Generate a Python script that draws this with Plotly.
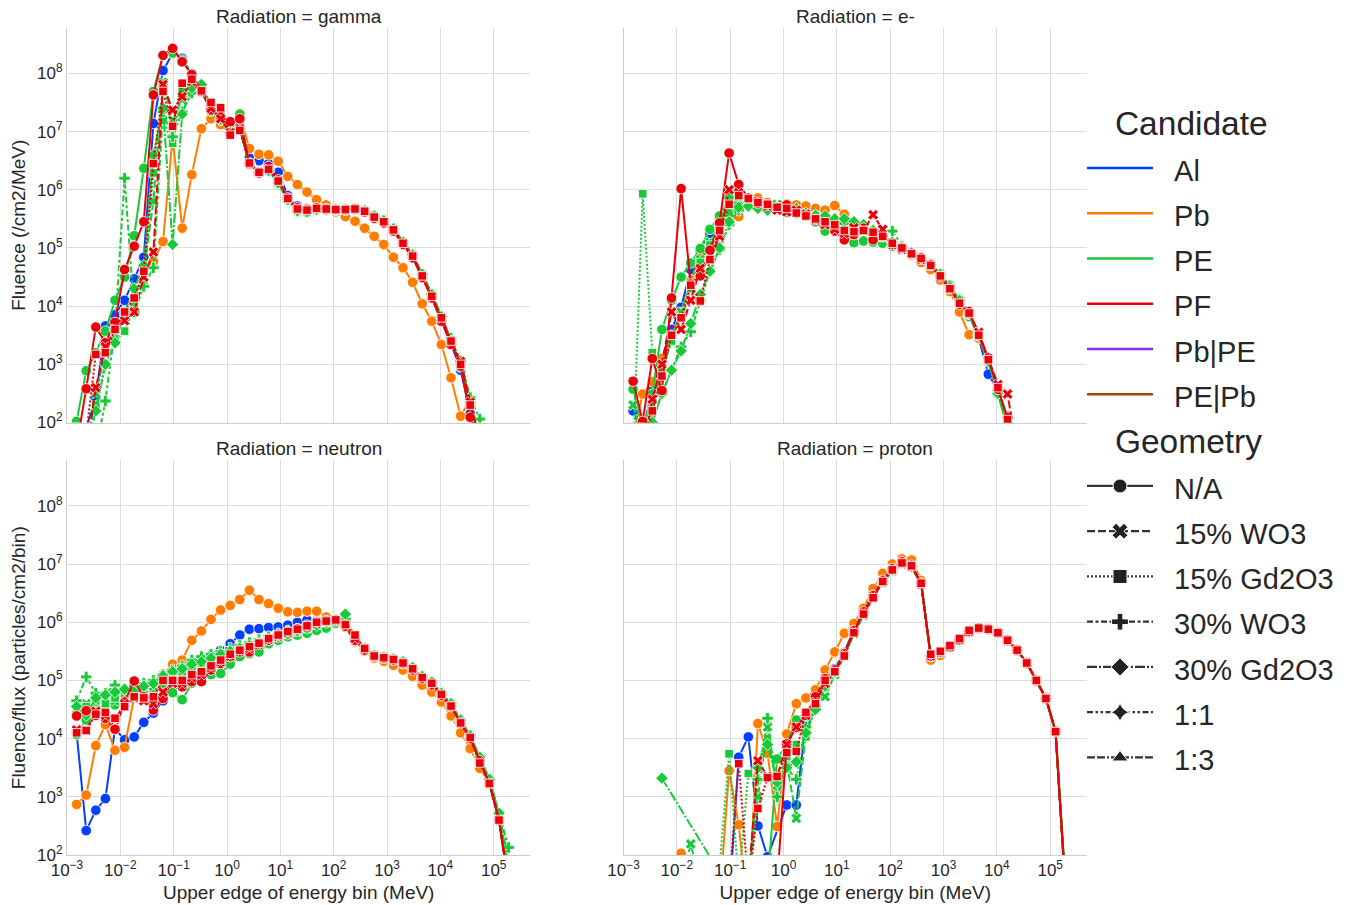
import plotly.graph_objects as go
from plotly.subplots import make_subplots

_ = None

# Upper edge of energy bin (MeV)
energy_MeV = [0.001514, 0.002291, 0.003467, 0.005248, 0.007943, 0.01202, 0.0182, 0.02754, 0.04169, 0.0631,
              0.0955, 0.1445, 0.2188, 0.3311, 0.5012, 0.7586, 1.148, 1.738, 2.63, 3.981,
              6.026, 9.12, 13.8, 20.89, 31.62, 47.86, 72.44, 109.6, 166.0, 251.2,
              380.2, 575.4, 871.0, 1318, 1995, 3020, 4571, 6918, 10470, 15850,
              23990, 36310, 54950, 83180, 125900, 190500]

radiations = ["gamma", "e-", "neutron", "proton"]
candidates = ["Al", "Pb", "PE", "PF", "Pb|PE", "PE|Pb"]
geometries = ["N/A", "15% WO3", "15% Gd2O3", "30% WO3", "30% Gd2O3", "1:1", "1:3"]

# ---- log10 of fluence (None = no point) ----
# gamma
gamma_Al_NA = [1.5, 1.9, 2.43, 3.66, 3.85, 4.1, 4.47, 4.84, 7.14, 8.05, 8.34, 8.26, 7.98, 7.72, 7.38, 7.2, 6.95, 7.1, 6.55, 6.5,
               6.45, 6.3, 5.9, 5.72, 5.68, 5.68, 5.67, 5.66, 5.66, 5.67, 5.63, 5.53, 5.45, 5.3, 5.07, 4.85, 4.5, 4.15, 3.75, 3.36,
               2.9, 2.15, 1.5, _, _, _]
gamma_Pb_NA = [_, _, _, _, _, _, _, _, 4.77, 5.11, 6.89, 5.34, 6.26, 7.05, 7.22, 7.12, 6.97, 7.31, 6.71, 6.61,
               6.6, 6.49, 6.23, 6.09, 5.96, 5.83, 5.74, 5.62, 5.54, 5.46, 5.34, 5.2, 5.06, 4.84, 4.66, 4.41, 4.04, 3.74, 3.34, 2.77,
               2.11, 2.4, _, _, _, _]
gamma_PE_NA = [2.02, 2.89, 3.2, 3.57, 4.1, 4.5, 5.21, 6.37, 7.69, 8.31, 8.35, 8.23, 8.0, 7.7, 7.35, 7.2, 7.0, 7.3, 6.45, 6.3,
               6.35, 6.1, 5.82, 5.62, 5.6, 5.66, 5.66, 5.65, 5.65, 5.66, 5.64, 5.55, 5.47, 5.33, 5.1, 4.88, 4.55, 4.2, 3.82, 3.4,
               2.95, 2.3, 1.6, _, _, _]
gamma_PE_WO3_15 = [_, 1.5, 2.5, 3.2, 3.5, 3.8, 4.1, 4.6, 5.8, 7.85, 7.2, 7.55, 7.85, 7.72, 7.42, 7.22, 6.98, 7.08, 6.45, 6.3,
                   6.33, 6.12, 5.83, 5.65, 5.62, 5.66, 5.66, 5.66, 5.66, 5.67, 5.64, 5.55, 5.47, 5.33, 5.1, 4.88, 4.55, 4.2, 3.82, 3.4,
                   3.0, 2.35, 1.7, _, _, _]
gamma_PE_Gd_15 = [_, 1.5, 2.3, 3.0, 3.4, 3.57, 4.0, 4.4, 6.29, 7.2, 6.8, 7.7, 7.9, 7.72, 7.45, 7.3, 6.95, 7.05, 6.45, 6.3,
                  6.35, 6.12, 5.83, 5.64, 5.62, 5.66, 5.66, 5.66, 5.66, 5.67, 5.64, 5.55, 5.47, 5.33, 5.1, 4.88, 4.55, 4.2, 3.82, 3.4,
                  3.0, 2.35, 1.7, _, _, _]
gamma_PE_WO3_30 = [_, _, 1.5, 2.37, 3.6, 6.2, 3.9, 4.34, 4.66, 7.34, 6.91, 7.34, 7.66, 7.75, 7.42, 7.2, 6.98, 7.05, 6.45, 6.3,
                   6.33, 6.12, 5.83, 5.64, 5.62, 5.66, 5.66, 5.66, 5.66, 5.67, 5.64, 5.55, 5.47, 5.33, 5.1, 4.88, 4.55, 4.2, 3.82, 3.45,
                   3.05, 2.43, 2.06, 1.5, _, _]
gamma_PE_Gd_30 = [_, 1.5, 2.2, 3.0, 3.37, 3.9, 4.3, 4.7, 6.6, 7.4, 5.06, 7.3, 7.75, 7.81, 7.45, 7.22, 6.98, 7.05, 6.45, 6.3,
                  6.33, 6.12, 5.83, 5.64, 5.62, 5.66, 5.66, 5.66, 5.66, 5.67, 5.64, 5.55, 5.47, 5.33, 5.1, 4.88, 4.55, 4.2, 3.82, 3.4,
                  3.0, 2.35, 1.7, _, _, _]
gamma_PF_NA = [1.6, 2.58, 3.64, 3.37, 3.72, 4.63, 5.03, 5.45, 7.63, 8.31, 8.43, 8.2, 7.98, 7.69, 7.37, 7.26, 7.17, 7.22, 6.45, 6.29,
               6.4, 6.17, 5.86, 5.69, 5.66, 5.69, 5.67, 5.66, 5.66, 5.67, 5.62, 5.51, 5.43, 5.29, 5.06, 4.83, 4.49, 4.14, 3.74, 3.34,
               2.97, 2.09, 1.5, _, _, _]
gamma_PF_WO3_15 = [_, 1.5, 2.6, 3.3, 3.6, 3.75, 3.9, 4.5, 4.93, 7.81, 7.37, 7.6, 7.86, 7.69, 7.4, 7.22, 6.98, 7.05, 6.45, 6.3,
                   6.35, 6.15, 5.85, 5.67, 5.65, 5.68, 5.67, 5.66, 5.66, 5.67, 5.63, 5.53, 5.45, 5.31, 5.08, 4.86, 4.52, 4.17, 3.8, 3.4,
                   3.05, 2.35, 1.7, _, _, _]
gamma_PF_Gd_15 = [_, 1.8, 3.17, 3.2, 3.6, 3.9, 4.14, 4.6, 6.45, 7.69, 7.09, 7.83, 7.9, 7.7, 7.5, 7.41, 6.94, 7.02, 6.46, 6.3,
                  6.35, 6.15, 5.85, 5.67, 5.65, 5.68, 5.67, 5.66, 5.66, 5.67, 5.63, 5.53, 5.45, 5.31, 5.08, 4.86, 4.52, 4.17, 3.8, 3.4,
                  3.0, 2.3, 1.6, _, _, _]

# e-
e_Al_NA = [2.2, 1.8, 2.6, 3.1, 3.6, 3.98, 4.63, 4.95, 5.25, 5.5, 5.7, 5.85, 5.82, 5.75, 5.72, 5.68, 5.66, 5.63, 5.6, 5.56,
           5.5, 5.45, 5.4, 5.3, 5.3, 5.25, 5.2, 5.08, 5.0, 4.9, 4.82, 4.7, 4.52, 4.3, 4.05, 3.85, 3.45, 2.83, 2.55, 1.95,
           1.5, _, _, _, _, _]
e_Pb_NA = [1.8, 2.49, 2.7, 3.1, 3.5, 3.89, 4.45, 4.85, 5.05, 5.35, 5.5, 5.54, 5.75, 5.86, 5.78, 5.72, 5.76, 5.74, 5.72, 5.68,
           5.65, 5.73, 5.58, 5.4, 5.3, 5.2, 5.15, 5.05, 4.98, 4.88, 4.75, 4.63, 4.45, 4.25, 3.9, 3.51, 3.45, 3.05, 2.5, 1.9,
           1.5, _, _, _, _, _]
e_PE_NA = [2.57, 1.9, 2.49, 3.6, 4.1, 4.5, 4.74, 4.99, 5.32, 5.55, 5.86, 6.07, 5.85, 5.75, 5.7, 5.67, 5.62, 5.6, 5.55, 5.45,
           5.29, 5.35, 5.2, 5.09, 5.12, 5.1, 5.08, 5.03, 4.98, 4.9, 4.82, 4.7, 4.52, 4.3, 4.05, 3.82, 3.5, 3.05, 2.5, 1.9,
           1.5, _, _, _, _, _]
e_PE_WO3_15 = [2.3, 1.7, 2.3, 2.9, 3.4, 3.9, 4.4, 4.8, 5.1, 5.4, 5.65, 5.8, 5.8, 5.75, 5.72, 5.75, 5.68, 5.62, 5.58, 5.55,
               5.5, 5.45, 5.4, 5.3, 5.32, 5.26, 5.2, 5.08, 5.0, 4.9, 4.82, 4.72, 4.55, 4.35, 4.1, 3.88, 3.5, 3.1, 2.6, 2.0,
               1.5, _, _, _, _, _]
e_PE_Gd_15 = [1.5, 5.93, 3.2, 2.9, 3.4, 3.8, 4.3, 4.75, 5.05, 5.35, 5.6, 5.88, 5.88, 5.78, 5.72, 5.68, 5.65, 5.62, 5.58, 5.55,
              5.5, 5.45, 5.38, 5.3, 5.3, 5.25, 5.18, 5.08, 4.98, 4.9, 4.82, 4.7, 4.52, 4.3, 4.05, 3.85, 3.5, 3.05, 2.5, 1.95,
              1.5, _, _, _, _, _]
e_PE_WO3_30 = [_, 1.5, 2.0, 2.5, 2.9, 3.3, 3.56, 4.1, 4.6, 4.97, 5.4, 5.65, 5.72, 5.7, 5.65, 5.68, 5.62, 5.6, 5.58, 5.55,
               5.5, 5.47, 5.42, 5.36, 5.38, 5.3, 5.23, 5.29, 5.03, 4.92, 4.82, 4.72, 4.55, 4.35, 4.1, 3.88, 3.5, 3.1, 2.55, 2.1,
               1.5, _, _, _, _, _]
e_PE_Gd_30 = [_, 1.5, 2.0, 2.5, 2.9, 3.23, 3.7, 4.2, 4.6, 5.0, 5.45, 5.7, 5.72, 5.68, 5.65, 5.7, 5.72, 5.68, 5.6, 5.56,
              5.55, 5.5, 5.5, 5.45, 5.4, 5.3, 5.22, 5.1, 5.0, 4.92, 4.82, 4.72, 4.55, 4.35, 4.1, 3.88, 3.5, 3.05, 2.5, 1.95,
              1.5, _, _, _, _, _]
e_PF_NA = [2.71, 2.02, 3.1, 2.55, 4.14, 6.02, 4.38, 4.52, 4.96, 5.43, 6.63, 6.09, 5.86, 5.77, 5.74, 5.69, 5.74, 5.63, 5.57, 5.49,
           5.43, 5.29, 5.14, 5.23, 5.34, 5.14, 5.2, 5.06, 5.0, 4.91, 4.83, 4.71, 4.51, 4.31, 4.03, 3.91, 3.51, 3.11, 2.57, 2.09,
           1.5, _, _, _, _, _]
e_PF_WO3_15 = [_, 1.5, 2.4, 3.0, 3.9, 3.6, 4.1, 4.65, 4.8, 5.2, 6.0, 5.95, 5.85, 5.8, 5.72, 5.65, 5.62, 5.65, 5.58, 5.48,
               5.4, 5.32, 5.25, 5.35, 5.3, 5.57, 5.32, 5.06, 4.98, 4.9, 4.8, 4.7, 4.5, 4.3, 4.05, 3.88, 3.55, 3.1, 2.65, 2.49,
               1.5, _, _, _, _, _]
e_PF_Gd_15 = [_, 1.5, 2.2, 2.8, 3.5, 3.8, 4.36, 4.09, 4.8, 5.3, 5.75, 5.9, 5.85, 5.78, 5.75, 5.7, 5.68, 5.6, 5.55, 5.5,
              5.45, 5.4, 5.3, 5.28, 5.3, 5.27, 5.2, 5.08, 5.0, 4.9, 4.82, 4.7, 4.52, 4.3, 4.05, 3.88, 3.5, 3.08, 2.6, 2.05,
              1.5, _, _, _, _, _]

# neutron
neu_Al_NA = [4.1, 2.42, 2.77, 2.97, 4.17, 3.98, 4.03, 4.28, 4.44, 4.65, 4.9, 5.0, 5.18, 5.28, 5.43, 5.52, 5.63, 5.78, 5.88, 5.89,
             5.91, 5.92, 5.95, 6.0, 6.04, 6.02, 6.05, 6.04, 5.94, 5.68, 5.52, 5.41, 5.38, 5.35, 5.29, 5.2, 5.05, 4.95, 4.76, 4.56,
             4.27, 4.02, 3.6, 3.23, 2.6, 1.5]
neu_Pb_NA = [2.87, 3.03, 3.88, 4.24, 3.8, 3.85, 4.72, 4.85, 4.95, 5.1, 5.28, 5.35, 5.69, 5.85, 6.05, 6.21, 6.29, 6.39, 6.55, 6.39,
             6.32, 6.24, 6.18, 6.17, 6.19, 6.19, 6.09, 6.04, 5.92, 5.66, 5.5, 5.38, 5.33, 5.26, 5.18, 5.07, 4.92, 4.8, 4.63, 4.39,
             4.1, 3.83, 3.49, 3.24, 2.6, 1.5]
neu_PE_NA = [4.07, 4.32, 4.45, 4.55, 4.58, 4.7, 4.75, 4.8, 4.85, 4.95, 4.79, 4.67, 4.95, 5.13, 5.1, 5.12, 5.28, 5.41, 5.46, 5.49,
             5.63, 5.69, 5.75, 5.78, 5.81, 5.86, 5.9, 5.98, 5.92, 5.68, 5.52, 5.41, 5.38, 5.35, 5.29, 5.2, 5.05, 4.95, 4.78, 4.6,
             4.3, 4.05, 3.65, 3.28, 2.65, 1.6]
neu_PE_WO3_15 = [4.5, 4.6, 4.6, 4.7, 4.65, 4.75, 4.9, 4.85, 4.9, 5.02, 5.1, 5.12, 5.2, 5.3, 5.38, 5.45, 5.5, 5.55, 5.6, 5.65,
                 5.7, 5.75, 5.8, 5.84, 5.9, 5.96, 6.0, 6.02, 5.98, 5.7, 5.54, 5.42, 5.39, 5.36, 5.3, 5.21, 5.06, 4.96, 4.78, 4.6,
                 4.3, 4.05, 3.65, 3.3, 2.7, 1.8]
neu_PE_Gd_15 = [4.6, 4.55, 4.65, 4.6, 4.7, 4.72, 4.85, 4.9, 4.95, 5.05, 5.12, 5.15, 5.22, 5.3, 5.35, 5.42, 5.48, 5.55, 5.6, 5.66,
                5.72, 5.76, 5.8, 5.85, 5.9, 5.95, 6.0, 6.03, 5.99, 5.7, 5.54, 5.42, 5.39, 5.36, 5.3, 5.21, 5.06, 4.96, 4.78, 4.6,
                4.3, 4.05, 3.65, 3.3, 2.7, 1.8]
neu_PE_WO3_30 = [4.65, 5.06, 4.78, 4.78, 4.92, 4.85, 4.9, 4.95, 5.0, 5.1, 5.18, 5.25, 5.35, 5.41, 5.45, 5.5, 5.55, 5.6, 5.65, 5.7,
                 5.75, 5.8, 5.85, 5.88, 5.92, 5.98, 6.02, 6.04, 6.05, 5.72, 5.55, 5.43, 5.4, 5.37, 5.32, 5.22, 5.07, 4.97, 4.78, 4.6,
                 4.32, 4.05, 3.68, 3.3, 2.72, 2.13]
neu_PE_Gd_30 = [4.55, 4.4, 4.7, 4.75, 4.8, 4.85, 4.8, 4.9, 4.95, 5.08, 5.15, 5.2, 5.28, 5.32, 5.38, 5.45, 5.5, 5.55, 5.6, 5.65,
                5.7, 5.75, 5.8, 5.85, 5.9, 5.95, 6.0, 6.02, 6.14, 5.72, 5.55, 5.43, 5.4, 5.37, 5.32, 5.22, 5.07, 4.97, 4.78, 4.6,
                4.32, 4.05, 3.68, 3.3, 2.72, 1.9]
neu_PF_NA = [4.39, 4.48, 4.4, 4.35, 4.16, 4.63, 4.99, 4.72, 4.49, 4.69, 5.0, 4.89, 4.98, 4.98, 5.18, 5.29, 5.41, 5.49, 5.49, 5.63,
             5.69, 5.78, 5.84, 5.89, 5.95, 6.0, 6.02, 6.04, 5.93, 5.69, 5.52, 5.41, 5.38, 5.35, 5.29, 5.18, 5.03, 4.92, 4.74, 4.55,
             4.27, 4.0, 3.62, 3.23, 2.6, 1.5]
neu_PF_WO3_15 = [4.15, 4.14, 4.47, 4.4, 4.33, 4.6, 4.7, 4.65, 4.6, 4.8, 4.95, 4.95, 5.05, 5.1, 5.22, 5.32, 5.42, 5.5, 5.55, 5.62,
                 5.7, 5.76, 5.82, 5.87, 5.92, 5.98, 6.02, 6.03, 5.95, 5.72, 5.54, 5.42, 5.39, 5.36, 5.3, 5.2, 5.05, 4.95, 4.76, 4.56,
                 4.27, 4.02, 3.6, 3.23, 2.6, 1.5]
neu_PF_Gd_15 = [4.1, 4.14, 4.42, 4.45, 4.35, 4.55, 4.72, 4.7, 4.72, 5.0, 5.0, 5.0, 5.1, 5.15, 5.25, 5.35, 5.45, 5.52, 5.58, 5.64,
                5.72, 5.78, 5.84, 5.88, 5.94, 6.0, 6.02, 6.04, 5.96, 5.78, 5.55, 5.42, 5.39, 5.36, 5.3, 5.2, 5.05, 4.95, 4.76, 4.56,
                4.27, 4.02, 3.58, 3.23, 2.6, 1.5]

# proton
pro_Al_NA = [_, _, _, _, _, _, _, _, _, _, 1.2, 3.68, 4.03, 2.5, 1.97, _, 2.86, 2.86, 4.3, 4.7,
             5.05, 5.2, 5.48, 5.88, 6.2, 6.48, 6.74, 6.95, 7.05, 7.0, 6.68, 5.42, 5.5, 5.58, 5.7, 5.84, 5.9, 5.88, 5.82, 5.69,
             5.52, 5.3, 5.0, 4.69, 4.12, 1.5]
pro_Pb_NA = [_, _, _, _, _, 2.03, 1.2, _, _, 1.2, 3.45, 2.52, 1.0, 4.26, 3.75, 2.49, 4.08, 4.6, 4.7, 4.84,
             5.18, 5.49, 5.81, 5.98, 6.24, 6.58, 6.84, 7.0, 7.09, 7.07, 6.72, 5.35, 5.43, 5.58, 5.72, 5.86, 5.91, 5.9, 5.83, 5.7,
             5.53, 5.31, 5.02, 4.71, 4.15, 1.5]
pro_PE_NA = [_, _, _, _, _, _, _, _, _, _, _, _, _, _, 1.5, 3.65, 3.9, 4.32, 4.45, 4.7,
             5.0, 5.15, 5.45, 5.84, 6.16, 6.45, 6.7, 6.9, 7.02, 6.96, 6.66, 5.42, 5.49, 5.58, 5.7, 5.84, 5.9, 5.88, 5.82, 5.69,
             5.52, 5.3, 5.0, 4.69, 4.12, 1.5]
pro_PE_WO3_15 = [_, _, _, _, _, 1.5, 2.19, 1.5, _, _, _, _, 1.5, 3.0, 4.2, 3.2, 3.6, 2.63, 4.1, 4.6,
                 4.72, 5.1, 5.42, 5.8, 6.12, 6.42, 6.68, 6.88, 7.0, 6.95, 6.65, 5.42, 5.49, 5.58, 5.7, 5.84, 5.9, 5.88, 5.82, 5.69,
                 5.52, 5.3, 5.0, 4.69, 4.12, 1.6]
pro_PE_Gd_15 = [_, _, _, _, _, _, _, _, 1.0, 1.8, 3.74, 1.5, 3.4, 3.6, 4.0, 3.3, 3.7, 3.9, 4.03, 4.6,
                4.95, 5.15, 5.45, 5.84, 6.16, 6.45, 6.72, 6.92, 7.03, 6.97, 6.66, 5.42, 5.49, 5.58, 5.7, 5.84, 5.9, 5.88, 5.82, 5.69,
                5.52, 5.3, 5.0, 4.69, 4.12, 1.6]
pro_PE_WO3_30 = [_, _, _, _, _, _, _, _, _, _, _, _, 1.5, 3.3, 4.35, 3.0, 3.5, 3.3, 4.2, 4.55,
                 4.9, 5.15, 5.45, 5.84, 6.16, 6.45, 6.7, 6.9, 7.02, 6.96, 6.66, 5.42, 5.49, 5.58, 5.7, 5.84, 5.9, 5.88, 5.82, 5.69,
                 5.52, 5.3, 5.0, 4.69, 4.12, 1.6]
pro_PE_Gd_30 = [_, _, _, 3.32, _, _, _, _, _, 1.7, _, _, 1.5, 3.5, 3.9, 3.25, 3.5, 3.6, 4.1, 4.5,
                4.9, 5.15, 5.45, 5.84, 6.16, 6.45, 6.7, 6.9, 7.02, 6.96, 6.66, 5.42, 5.49, 5.58, 5.7, 5.84, 5.9, 5.88, 5.82, 5.69,
                5.52, 5.3, 5.0, 4.69, 4.12, 1.6]
pro_PF_NA = [_, _, _, _, _, _, _, _, _, _, _, _, _, _, _, 1.5, 3.91, 4.19, 4.4, 4.72,
             5.03, 5.18, 5.46, 5.86, 6.18, 6.46, 6.72, 6.92, 7.04, 6.98, 6.67, 5.42, 5.49, 5.58, 5.7, 5.84, 5.9, 5.88, 5.82, 5.69,
             5.52, 5.3, 5.0, 4.69, 4.12, 1.5]
pro_PF_WO3_15 = [_, _, _, _, _, _, _, _, _, _, _, _, 1.5, 3.62, 3.35, 3.35, 3.9, 4.2, 4.4, 4.62,
                 4.95, 5.15, 5.44, 5.84, 6.16, 6.44, 6.7, 6.9, 7.02, 6.96, 6.66, 5.42, 5.49, 5.58, 5.7, 5.84, 5.9, 5.88, 5.82, 5.69,
                 5.52, 5.3, 5.0, 4.69, 4.12, 1.5]
pro_PF_Gd_15 = [_, _, _, _, _, _, _, _, _, _, 1.5, 3.57, 1.5, 2.8, 3.33, 3.35, 3.76, 3.78, 4.45, 4.6,
                5.0, 5.15, 5.42, 5.82, 6.14, 6.42, 6.7, 6.9, 7.02, 6.97, 6.67, 5.45, 5.5, 5.6, 5.72, 5.86, 5.9, 5.88, 5.82, 5.69,
                5.52, 5.3, 5.0, 4.69, 4.12, 1.5]

series = [
    ("gamma", "Al", "N/A", gamma_Al_NA), ("gamma", "Pb", "N/A", gamma_Pb_NA),
    ("gamma", "PE", "N/A", gamma_PE_NA), ("gamma", "PE", "15% WO3", gamma_PE_WO3_15),
    ("gamma", "PE", "15% Gd2O3", gamma_PE_Gd_15), ("gamma", "PE", "30% WO3", gamma_PE_WO3_30),
    ("gamma", "PE", "30% Gd2O3", gamma_PE_Gd_30), ("gamma", "PF", "N/A", gamma_PF_NA),
    ("gamma", "PF", "15% WO3", gamma_PF_WO3_15), ("gamma", "PF", "15% Gd2O3", gamma_PF_Gd_15),
    ("e-", "Al", "N/A", e_Al_NA), ("e-", "Pb", "N/A", e_Pb_NA),
    ("e-", "PE", "N/A", e_PE_NA), ("e-", "PE", "15% WO3", e_PE_WO3_15),
    ("e-", "PE", "15% Gd2O3", e_PE_Gd_15), ("e-", "PE", "30% WO3", e_PE_WO3_30),
    ("e-", "PE", "30% Gd2O3", e_PE_Gd_30), ("e-", "PF", "N/A", e_PF_NA),
    ("e-", "PF", "15% WO3", e_PF_WO3_15), ("e-", "PF", "15% Gd2O3", e_PF_Gd_15),
    ("neutron", "Al", "N/A", neu_Al_NA), ("neutron", "Pb", "N/A", neu_Pb_NA),
    ("neutron", "PE", "N/A", neu_PE_NA), ("neutron", "PE", "15% WO3", neu_PE_WO3_15),
    ("neutron", "PE", "15% Gd2O3", neu_PE_Gd_15), ("neutron", "PE", "30% WO3", neu_PE_WO3_30),
    ("neutron", "PE", "30% Gd2O3", neu_PE_Gd_30), ("neutron", "PF", "N/A", neu_PF_NA),
    ("neutron", "PF", "15% WO3", neu_PF_WO3_15), ("neutron", "PF", "15% Gd2O3", neu_PF_Gd_15),
    ("proton", "Al", "N/A", pro_Al_NA), ("proton", "Pb", "N/A", pro_Pb_NA),
    ("proton", "PE", "N/A", pro_PE_NA), ("proton", "PE", "15% WO3", pro_PE_WO3_15),
    ("proton", "PE", "15% Gd2O3", pro_PE_Gd_15), ("proton", "PE", "30% WO3", pro_PE_WO3_30),
    ("proton", "PE", "30% Gd2O3", pro_PE_Gd_30), ("proton", "PF", "N/A", pro_PF_NA),
    ("proton", "PF", "15% WO3", pro_PF_WO3_15), ("proton", "PF", "15% Gd2O3", pro_PF_Gd_15),
]

cand_colors = {"Al": "#023eff", "Pb": "#ff7c00", "PE": "#1ac938", "PF": "#e8000b",
               "Pb|PE": "#8b2be2", "PE|Pb": "#9f4800"}
geo_dash = {"N/A": "solid", "15% WO3": "8px,3px", "15% Gd2O3": "2px,2px",
            "30% WO3": "6px,2.5px,3px,2.5px", "30% Gd2O3": "10px,2px,2px,2px",
            "1:1": "6px,2.5px,2.5px,2.5px,2.5px,2.5px", "1:3": "8px,2px,8px,2px,2px,2px"}
geo_symbol = {"N/A": "circle", "15% WO3": "x", "15% Gd2O3": "square", "30% WO3": "cross",
              "30% Gd2O3": "diamond", "1:1": "star-diamond", "1:3": "triangle-up"}
geo_size = {"N/A": 10.5, "15% WO3": 9.5, "15% Gd2O3": 8.5, "30% WO3": 9.5, "30% Gd2O3": 9.5, "1:1": 10, "1:3": 9}
panel_pos = {"gamma": (1, 1), "e-": (1, 2), "neutron": (2, 1), "proton": (2, 2)}

FONT = "Arial, Liberation Sans, sans-serif"
TXT = "#262626"
GRID = "#dcdcdc"

fig = make_subplots(rows=2, cols=2, horizontal_spacing=0.0912, vertical_spacing=0.0459,
                    subplot_titles=["Radiation = " + r for r in radiations])

for rad, cand, geo, vals in series:
    r, c = panel_pos[rad]
    fig.add_trace(go.Scatter(
        x=energy_MeV, y=[None if v is None else 10 ** v for v in vals],
        mode="lines+markers", connectgaps=True, showlegend=False,
        name=f"{cand}, {geo}",
        line=dict(color=cand_colors[cand], width=2, dash=geo_dash[geo]),
        marker=dict(symbol=geo_symbol[geo], size=geo_size[geo], color=cand_colors[cand],
                    line=dict(color="white", width=0.8)),
    ), row=r, col=c)


def legend_label(t):
    return '<span style="font-size:29px">&nbsp;&nbsp;' + t + '</span>'


# legend keys
for cand in candidates:
    fig.add_trace(go.Scatter(
        x=[None], y=[None], mode="lines", name=legend_label(cand),
        legendgroup="Candidate",
        legendgrouptitle=dict(text="&nbsp;&nbsp;&nbsp;Candidate", font=dict(size=33.5, color=TXT, family=FONT)),
        line=dict(color=cand_colors[cand], width=2.5), showlegend=True), row=1, col=1)
for geo in geometries:
    fig.add_trace(go.Scatter(
        x=[None], y=[None], mode="lines+markers", name=legend_label(geo),
        legendgroup="Geometry",
        legendgrouptitle=dict(text="&nbsp;&nbsp;&nbsp;Geometry", font=dict(size=33.5, color=TXT, family=FONT)),
        line=dict(color="#333333", width=2.2, dash=geo_dash[geo]),
        marker=dict(symbol=geo_symbol[geo], size=14, color="#222222", line=dict(color="white", width=1)),
        showlegend=True), row=1, col=1)


def exp_txt(e):
    return "10<sup>" + ("\u2212" if e < 0 else "") + str(abs(e)) + "</sup>"


x_exps = list(range(-3, 6))
y_exps = list(range(2, 9))

for r in (1, 2):
    for c in (1, 2):
        fig.update_xaxes(row=r, col=c, type="log", range=[-3, 5.69], automargin=False,
                         tickvals=[10 ** e for e in x_exps], ticktext=[exp_txt(e) for e in x_exps],
                         showticklabels=(r == 2), showgrid=True, gridcolor=GRID, gridwidth=1,
                         showline=True, linecolor="#cccccc", linewidth=1, ticks="", zeroline=False,
                         tickfont=dict(size=17, color=TXT, family=FONT))
        fig.update_yaxes(row=r, col=c, type="log", range=[2, 8.78], automargin=False,
                         tickvals=[10 ** e for e in y_exps], ticktext=[exp_txt(e) for e in y_exps],
                         showticklabels=(c == 1), showgrid=True, gridcolor=GRID, gridwidth=1,
                         showline=True, linecolor="#cccccc", linewidth=1, ticks="", zeroline=False,
                         tickfont=dict(size=17, color=TXT, family=FONT))

xt = dict(text="Upper edge of energy bin (MeV)", font=dict(size=19, color=TXT, family=FONT), standoff=6)
fig.update_xaxes(row=2, col=1, title=xt)
fig.update_xaxes(row=2, col=2, title=xt)
fig.update_yaxes(row=1, col=1, title=dict(text="Fluence (/cm2/MeV)", font=dict(size=19, color=TXT, family=FONT), standoff=6))
fig.update_yaxes(row=2, col=1, title=dict(text="Fluence/flux (particles/cm2/bin)", font=dict(size=19, color=TXT, family=FONT), standoff=6))

for ann in fig.layout.annotations:
    ann.font = dict(size=19, color=TXT, family=FONT)
    ann.yshift = -1

fig.update_layout(
    width=1353, height=905,
    margin=dict(l=67, r=266, t=28, b=50, autoexpand=False),
    paper_bgcolor="white", plot_bgcolor="white",
    font=dict(family=FONT, color=TXT),
    showlegend=True,
    legend=dict(x=0.9951, y=0.9205, xanchor="left", yanchor="top",
                font=dict(size=32.5, color=TXT, family=FONT),
                tracegroupgap=0, itemwidth=66, bgcolor="rgba(0,0,0,0)", borderwidth=0,
                itemclick=False, itemdoubleclick=False),
)

fig.write_html("out.html")
